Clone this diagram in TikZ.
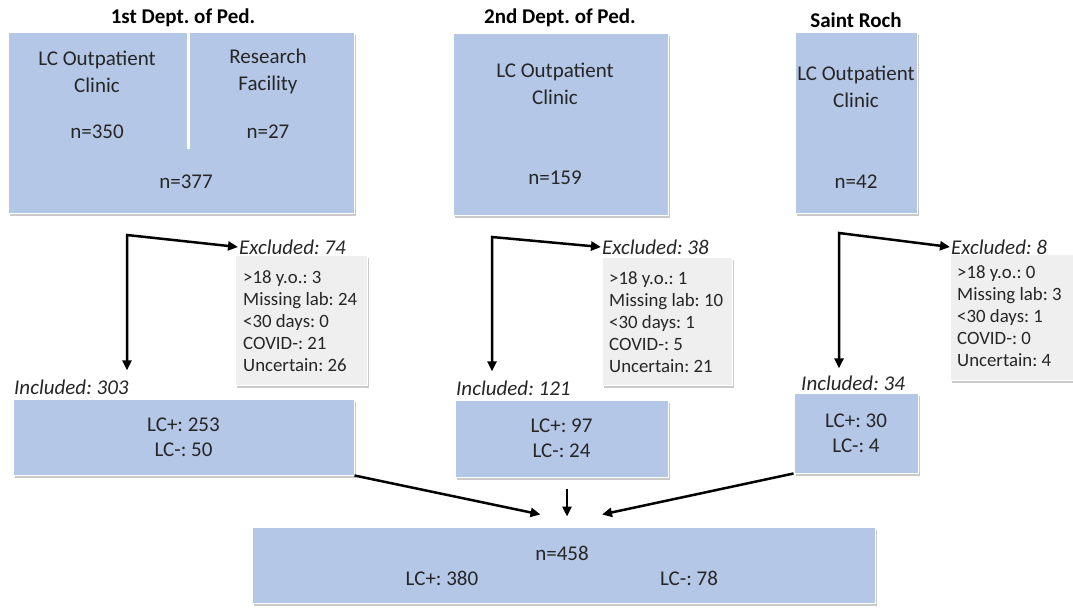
\documentclass[tikz,border=0pt]{standalone}
\usepackage{fontspec}
\setmainfont{Carlito}
\usetikzlibrary{shadows,arrows.meta,calc}
\definecolor{boxblue}{HTML}{B4C7E7}
\definecolor{exgray}{HTML}{EFEFEF}
\definecolor{txt}{HTML}{262626}
\begin{document}
\frenchspacing
\begin{tikzpicture}[x=1pt,y=-1pt,
  bluebox/.style={draw=white, line width=1pt, fill=boxblue, inner sep=0pt,
    drop shadow={shadow xshift=2pt,shadow yshift=-2.5pt,opacity=0.35,fill=black!60}},
  graybox/.style={draw=white, line width=0.5pt, fill=exgray, inner sep=0pt,
    drop shadow={shadow xshift=2pt,shadow yshift=-2.5pt,opacity=0.35,fill=black!60}},
  extext/.style={align=left, text=txt, font=\fontsize{18.8}{22}\selectfont, inner sep=0pt, anchor=west},
  main/.style={text=txt, font=\fontsize{21}{27}\selectfont, align=center, inner sep=1pt},
  incl/.style={text=txt, font=\fontsize{21}{25}\selectfont, align=center},
  lbl/.style={text=txt, font=\fontsize{21}{25}\selectfont\itshape, inner sep=1pt, anchor=west},
  ttl/.style={text=black, font=\fontsize{21}{25}\selectfont\bfseries, inner sep=1pt},
  arr/.style={line width=2.5pt, -{Triangle[length=10pt,width=9pt]}},
  barr/.style={line width=2.5pt, {Triangle[length=10pt,width=9pt]}-{Triangle[length=10pt,width=9pt]}, line join=miter}
]
\useasboundingbox (0,0) rectangle (1073,608);

% titles
\node[ttl] (t1) at (183,18) {1st Dept. of Ped.};
\node[ttl] (t2) at (560,18) {2nd Dept. of Ped.};
\node[ttl] (t3) at (856,20) {Saint Roch};

% top boxes
\node[bluebox, minimum width=346pt, minimum height=181pt] (box1) at (181,122.5) {};
\draw[white, line width=3pt] (188,32) -- (188,149);
\node[main] (b1a) at (97,71.5) {LC Outpatient\\Clinic};
\node[main] (b1b) at (97,132) {n=350};
\node[main] (b1c) at (268,71.5) {Research\\Facility};
\node[main] (b1d) at (268,132) {n=27};
\node[main] (b1e) at (186,182) {n=377};

\node[bluebox, minimum width=215pt, minimum height=182pt] (box2) at (560.5,124) {};
\node[main] (b2a) at (555,83.5) {LC Outpatient\\Clinic};
\node[main] (b2b) at (555,178) {n=159};

\node[bluebox, minimum width=122pt, minimum height=181pt] (box3) at (856,122.5) {};
\node[main] (b3a) at (856,87) {LC Outpatient\\Clinic};
\node[main] (b3b) at (856,182) {n=42};

% excluded
\node[lbl] (exl1) at (238,247) {Excluded: 74};
\node[lbl] (exl2) at (601,247) {Excluded: 38};
\node[lbl] (exl3) at (950,247) {Excluded: 8};

\node[graybox, minimum width=132pt, minimum height=130pt] (exb1) at (301,320) {};
\node[extext] (ext1) at (243,321) {>18 y.o.: 3\\Missing lab: 24\\<30 days: 0\\COVID-: 21\\Uncertain: 26};
\node[graybox, minimum width=130pt, minimum height=128pt] (exb2) at (667,321) {};
\node[extext] (ext2) at (609,322) {>18 y.o.: 1\\Missing lab: 10\\<30 days: 1\\COVID-: 5\\Uncertain: 21};
\node[graybox, minimum width=124pt, minimum height=126pt] (exb3) at (1012,317) {};
\node[extext] (ext3) at (957,316) {>18 y.o.: 0\\Missing lab: 3\\<30 days: 1\\COVID-: 0\\Uncertain: 4};

% included
\node[lbl] (inl1) at (13,387) {Included: 303};
\node[lbl] (inl2) at (455,388) {Included: 121};
\node[lbl] (inl3) at (800,383) {Included: 34};

\node[bluebox, incl, minimum width=341pt, minimum height=76pt] (inc1) at (183.5,437) {LC+: 253\\LC-: 50};
\node[bluebox, incl, minimum width=213pt, minimum height=77pt] (inc2) at (561.5,438.5) {LC+: 97\\LC-: 24};
\node[bluebox, incl, minimum width=124pt, minimum height=80pt] (inc3) at (856,433) {LC+: 30\\LC-: 4};

% bottom
\node[bluebox, minimum width=623pt, minimum height=76pt] (bot) at (563.5,565) {};
\node[main] (bn) at (562,553) {n=458};
\node[main] (bp) at (442,578) {LC+: 380};
\node[main] (bm) at (689,578) {LC-: 78};

% split arrows
\coordinate (c1) at (127,235);
\coordinate (c2) at (492,237);
\coordinate (c3) at (839,233);
\draw[barr] ($(c1 |- inl1.north)+(0,-8)$) -- (c1) -- (exl1.west);
\draw[barr] ($(c2 |- inl2.north)+(0,-8)$) -- (c2) -- (exl2.west);
\draw[barr] ($(c3 |- inl3.north)+(0,-6)$) -- (c3) -- (exl3.west);

% merge arrows
\draw[arr] (inc1.south east) -- ($(bot.north)+(-23,-12)$);
\draw[arr] ($(inc2.south)+(5.5,11)$) -- ($(bot.north)+(3.5,-10)$);
\draw[arr] (inc3.south west) -- ($(bot.north)+(38.5,-12)$);
\end{tikzpicture}
\end{document}
